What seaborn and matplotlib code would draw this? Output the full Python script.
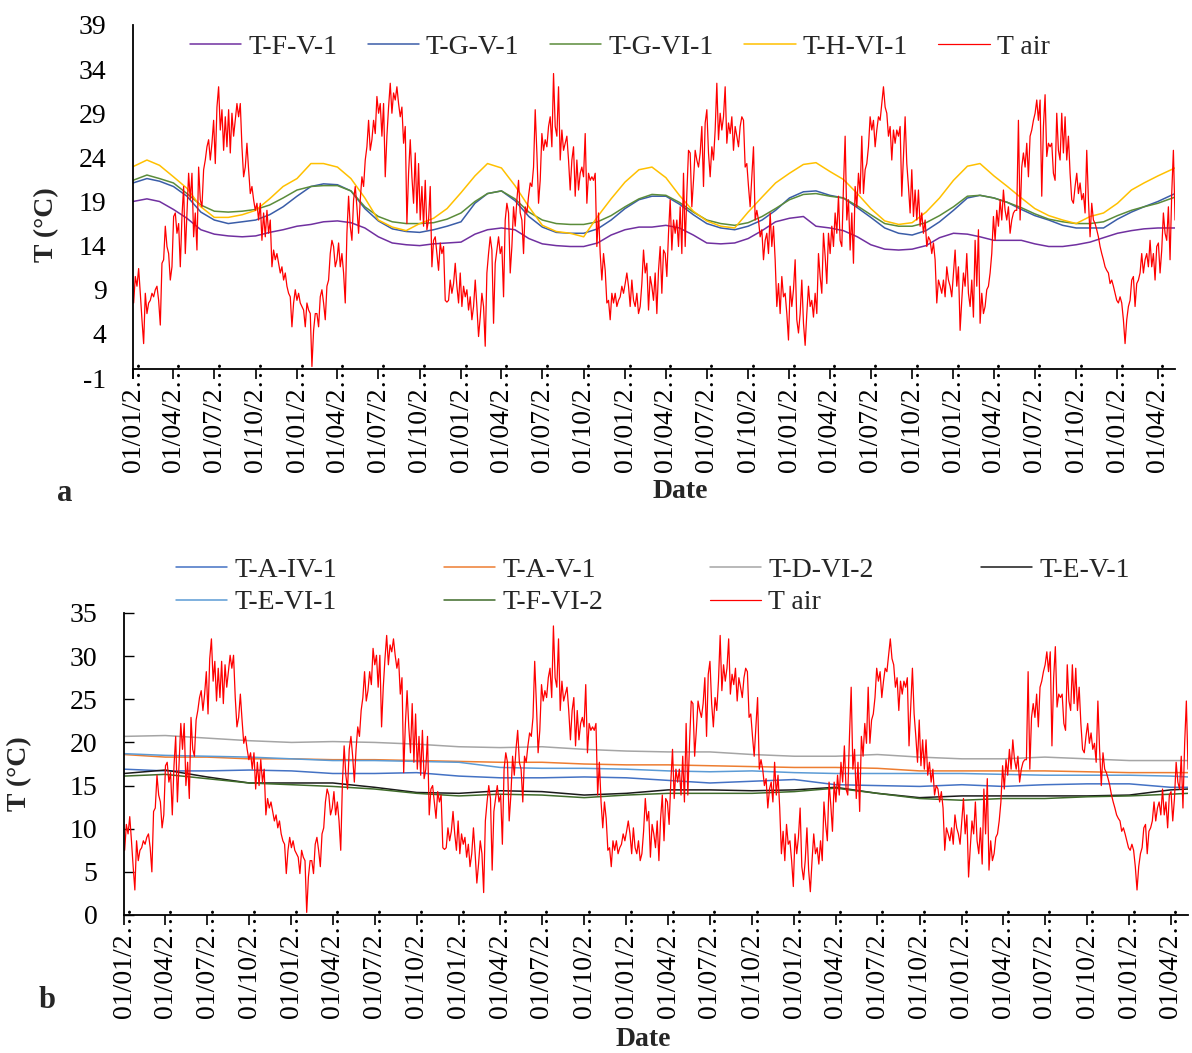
import matplotlib
matplotlib.use("Agg")
import matplotlib.pyplot as plt
import pandas as pd
import seaborn as sns

# ------------------------------------------------------------------ data
# Air temperature (same record in both panels), read at regular steps
AIR_START = "2013-01-02 10:00"
AIR_STEP = "89h"
T_AIR = [
    7.5, 10.5, 9.4, 11.4, 8.6, 5.6, 2.9, 8.6, 6.3, 7.5,
    7.8, 8.6, 8.2, 9.0, 9.4, 7.8, 5.0, 12.0, 12.4, 16.2,
    13.9, 13.1, 10.1, 11.6, 17.3, 17.7, 15.4, 16.5, 11.6, 17.3,
    20.7, 13.1, 17.7, 22.2, 19.2, 22.2, 15.0, 17.7, 13.5, 22.9,
    19.2, 18.4, 22.6, 23.7, 25.2, 26.0, 23.7, 25.6, 28.2, 23.3,
    29.7, 32.0, 27.1, 29.4, 24.8, 28.6, 25.2, 29.4, 24.5, 29.0,
    26.4, 28.2, 30.1, 28.6, 30.1, 25.2, 21.8, 22.9, 25.6, 22.6,
    19.9, 20.7, 19.2, 18.0, 18.8, 16.9, 18.8, 14.6, 17.7, 15.0,
    18.0, 15.4, 16.9, 11.6, 13.5, 12.4, 13.1, 12.0, 10.9, 11.6,
    10.1, 10.9, 9.4, 8.6, 8.2, 4.8, 7.5, 9.0, 7.8, 8.6,
    7.5, 7.1, 6.7, 4.8, 7.5, 6.7, 6.3, 0.3, 4.4, 6.3,
    # 2014
    6.3, 4.8, 8.2, 9.0, 7.5, 5.6, 9.4, 10.1, 13.1, 14.6,
    13.9, 11.6, 12.4, 14.3, 11.6, 13.1, 10.9, 7.5, 15.4, 19.6,
    16.2, 14.6, 19.2, 20.7, 18.4, 15.4, 19.2, 21.8, 20.7, 23.7,
    25.2, 28.2, 24.8, 26.0, 28.2, 26.7, 30.9, 29.0, 30.1, 26.4,
    30.1, 21.8, 26.4, 29.7, 32.4, 29.0, 31.3, 30.5, 32.0, 30.1,
    28.6, 29.7, 25.6, 27.5, 16.5, 22.2, 26.0, 21.8, 18.8, 24.5,
    17.7, 23.3, 16.9, 20.7, 16.2, 21.4, 15.8, 16.9, 20.7, 11.6,
    14.6, 15.0, 13.1, 11.2, 14.3, 13.1, 13.9, 7.8, 7.6, 7.8,
    10.1, 8.6, 9.7, 12.0, 9.4, 7.5, 10.9, 7.1, 9.4, 8.2,
    9.0, 6.7, 8.2, 5.6, 7.1, 10.1, 7.1, 3.7, 5.9, 8.6,
    7.1, 2.6, 10.9, 13.1, 15.0,
    # 2015
    13.5, 5.2, 12.0, 13.5, 15.0, 13.1, 13.9, 8.2, 16.9, 18.8,
    17.7, 10.9, 13.9, 18.4, 16.2, 19.2, 21.4, 17.7, 16.9, 13.1,
    18.4, 17.7, 19.6, 21.1, 20.7, 22.9, 29.4, 24.5, 18.8, 21.4,
    26.7, 24.8, 26.0, 25.2, 27.5, 28.6, 25.2, 33.5, 27.5, 26.4,
    32.0, 23.7, 27.1, 24.8, 25.6, 26.4, 23.7, 20.3, 23.7, 25.2,
    19.6, 23.7, 20.3, 22.2, 22.9, 21.8, 26.7, 18.8, 22.2, 21.4,
    21.8, 21.4, 22.2, 13.9, 17.7, 13.1, 10.1, 13.1, 11.2, 7.5,
    7.8, 5.6, 8.6, 7.5, 8.6, 7.1, 7.8, 8.2, 9.4, 8.6,
    9.7, 10.9, 9.4, 7.1, 10.1, 7.8, 7.1, 8.6, 6.3, 7.1,
    9.7, 13.5, 10.9, 12.0, 6.7, 10.5, 9.4, 7.8, 10.9, 6.3,
    11.2, 13.9, 8.6, 13.5, 13.1,
    # 2016
    10.5, 15.4, 19.2, 13.5, 16.9, 15.4, 16.9, 13.9, 18.4, 13.1,
    22.2, 13.9, 19.9, 24.8, 24.5, 18.4, 21.4, 24.8, 23.7, 22.9,
    24.5, 27.5, 20.7, 27.9, 29.4, 24.5, 21.8, 25.2, 23.7, 27.1,
    32.4, 26.0, 29.0, 27.1, 28.6, 32.0, 25.6, 27.9, 26.7, 28.6,
    24.8, 27.5, 26.4, 25.2, 27.5, 28.6, 28.2, 22.9, 23.3, 20.7,
    18.4, 21.8, 25.2, 16.9, 18.0, 16.9, 15.0, 15.8, 12.4, 14.6,
    15.4, 13.1, 17.7, 13.9, 16.2, 12.4, 7.1, 9.7, 6.3, 10.5,
    8.2, 8.6, 6.3, 3.3, 9.4, 7.1, 9.0, 12.4, 5.6, 4.1,
    6.3, 10.1, 5.2, 2.7, 6.3, 9.4, 7.1, 7.8, 5.9, 8.6,
    6.3, 13.1, 10.5, 8.6, 15.4, 12.8, 9.7, 15.4, 13.1, 16.2,
    13.9, 17.7, 15.4, 19.6, 14.6,
    # 2017
    13.9, 20.7, 26.4, 16.9, 19.2, 13.5, 17.7, 12.0, 20.7, 18.4,
    22.2, 19.9, 26.4, 19.9, 22.6, 23.3, 25.2, 28.6, 27.1, 28.2,
    25.2, 27.1, 28.6, 28.2, 30.1, 32.0, 29.7, 29.0, 26.4, 27.5,
    23.7, 27.1, 25.6, 27.1, 26.4, 27.5, 19.6, 24.1, 28.6, 23.3,
    20.7, 17.7, 22.6, 17.3, 20.3, 16.9, 20.3, 16.2, 17.7, 15.4,
    16.9, 13.9, 15.0, 14.6, 13.1, 14.3, 12.4, 7.5, 10.1, 9.4,
    8.6, 10.1, 8.2, 11.6, 10.1, 9.4, 8.2, 10.9, 13.5, 9.4,
    11.6, 4.4, 7.8, 10.9, 9.4, 13.1, 8.6, 7.1, 10.1, 5.9,
    14.6, 9.4, 15.8, 5.2, 8.6, 6.3, 7.1, 9.0, 9.4, 10.9,
    13.1, 17.3, 14.6, 18.0, 16.2, 19.2, 16.9, 20.3, 18.0, 16.9,
    18.4, 15.4, 16.9, 17.7, 18.0,
    # 2018 - 2019
    18.0, 28.2, 16.9, 22.9, 24.5, 22.9, 25.6, 21.8, 26.4, 27.1,
    28.2, 29.0, 30.5, 28.2, 30.5, 19.6, 27.5, 31.1, 24.1, 25.6,
    25.2, 25.6, 22.2, 21.4, 29.0, 24.8, 23.7, 29.0, 24.5, 28.6,
    23.7, 26.4, 22.2, 19.2, 18.8, 20.7, 22.2, 19.9, 21.1, 19.2,
    19.9, 17.7, 24.8, 19.2, 15.0, 18.8, 16.9, 16.5, 15.8, 15.0,
    13.9, 13.1, 12.4, 11.6, 11.2, 10.9, 9.7, 10.1, 9.4, 8.6,
    7.8, 7.5, 8.2, 7.5, 5.6, 2.9, 5.6, 7.1, 7.8, 10.1,
    10.5, 7.1, 9.7, 10.1, 10.9, 13.1, 10.9, 12.4, 13.1, 11.6,
    14.6, 11.6, 13.1, 10.1, 13.9, 14.3, 10.9, 13.5, 17.7, 15.4,
    14.6, 18.4, 12.4, 19.9, 24.8, 16.9,
]

# Panel a soil sensors, read at the start of each month (last value at END_DATE)
END_DATE = "2019-05-09"
T_F_V_1 = [
    19.0, 19.3, 19.0, 18.1, 17.1, 15.8, 15.3, 15.1, 15.0, 15.1, 15.5, 15.8, 16.2, 16.4,
    16.7, 16.8, 16.6, 16.0, 15.0, 14.3, 14.1, 14.0, 14.2, 14.3, 14.4, 15.3, 15.8,
    16.0, 15.8, 14.8, 14.2, 14.0, 13.9, 13.9, 14.3, 15.2, 15.8, 16.1, 16.1,
    16.3, 16.0, 15.2, 14.3, 14.2, 14.3, 14.8, 15.7, 16.7, 17.1, 17.3, 16.2, 16.0,
    15.7, 15.0, 14.1, 13.6, 13.5, 13.6, 14.0, 14.9, 15.4, 15.3, 15.0, 14.6, 14.6,
    14.6, 14.2, 13.9, 13.9, 14.1, 14.4, 14.9, 15.4, 15.7, 15.9, 16.0, 16.0,
]
T_G_V_1 = [
    21.1, 21.6, 21.3, 20.7, 19.6, 17.8, 16.9, 16.5, 16.7, 16.9, 17.5, 18.4, 19.6, 20.7,
    21.0, 20.9, 20.2, 18.2, 16.8, 15.9, 15.6, 15.5, 15.8, 16.2, 16.7, 18.8, 19.9,
    20.2, 19.1, 17.3, 16.1, 15.5, 15.4, 15.4, 15.9, 16.9, 18.2, 19.2, 19.6,
    19.6, 18.7, 17.5, 16.5, 16.0, 15.8, 16.2, 16.9, 18.0, 19.4, 20.1, 20.2, 19.7,
    19.4, 18.3, 17.2, 16.0, 15.4, 15.2, 15.7, 16.7, 18.0, 19.4, 19.7, 19.4, 18.9,
    18.1, 17.4, 16.9, 16.3, 16.0, 16.0, 16.0, 17.0, 17.8, 18.4, 19.0, 19.9,
]
T_G_VI_1 = [
    21.4, 22.0, 21.6, 21.1, 19.9, 18.6, 17.9, 17.8, 17.9, 18.1, 18.6, 19.4, 20.3, 20.7,
    20.8, 20.8, 20.2, 18.4, 17.3, 16.7, 16.5, 16.5, 16.6, 17.0, 17.7, 19.0, 19.9,
    20.2, 19.3, 17.8, 16.9, 16.5, 16.4, 16.4, 16.7, 17.4, 18.4, 19.3, 19.8,
    19.7, 18.9, 17.8, 16.9, 16.5, 16.3, 16.6, 17.3, 18.2, 19.2, 19.8, 19.9, 19.6,
    19.4, 18.5, 17.5, 16.5, 16.2, 16.2, 16.6, 17.4, 18.4, 19.6, 19.7, 19.4, 18.9,
    18.3, 17.6, 17.0, 16.7, 16.5, 16.5, 16.7, 17.4, 18.0, 18.4, 18.8, 19.5,
]
T_H_VI_1 = [
    22.95, 23.7, 23.1, 21.8, 20.5, 18.4, 17.2, 17.2, 17.5, 18.0, 19.3, 20.7, 21.6, 23.3,
    23.3, 22.9, 21.6, 19.4, 16.9, 16.1, 15.7, 16.5, 17.1, 18.2, 20.0, 21.9, 23.3,
    22.8, 20.8, 18.4, 16.3, 15.6, 15.4, 15.0, 17.3, 19.3, 21.2, 22.6, 22.9,
    21.7, 19.7, 17.9, 16.8, 16.2, 16.0, 17.8, 19.5, 21.1, 22.2, 23.2, 23.4, 22.4,
    21.5, 19.9, 18.2, 16.8, 16.4, 16.6, 17.8, 19.4, 21.4, 23.0, 23.3, 21.9, 20.7,
    19.4, 18.2, 17.4, 16.9, 16.5, 17.3, 17.7, 18.8, 20.3, 21.1, 21.9, 22.8,
]

# Panel b soil sensors, read at the start of each quarter (last value at END_DATE)
T_A_IV_1 = [16.9, 16.7, 16.7, 16.8, 16.7, 16.4, 16.4, 16.5, 16.1, 15.9, 15.9, 16.0, 15.9, 15.6,
            15.3, 15.5, 15.7, 15.1, 15.0, 14.9, 15.1, 14.9, 15.1, 15.2, 15.2, 14.8, 14.8]
T_A_V_1 = [18.6, 18.3, 18.3, 18.1, 18.1, 18.0, 18.0, 17.9, 17.8, 17.7, 17.7, 17.5, 17.4, 17.4,
           17.3, 17.2, 17.1, 17.1, 17.0, 16.7, 16.7, 16.7, 16.7, 16.6, 16.5, 16.5, 16.5]
T_D_VI_2 = [20.7, 20.8, 20.5, 20.2, 20.0, 20.1, 20.0, 19.8, 19.5, 19.4, 19.5, 19.2, 19.0, 18.9,
            18.9, 18.6, 18.4, 18.4, 18.6, 18.3, 18.1, 18.1, 18.3, 18.1, 17.9, 17.9, 17.9]
T_E_V_1 = [16.4, 16.8, 16.0, 15.3, 15.3, 15.3, 14.8, 14.2, 14.1, 14.4, 14.3, 13.9, 14.1, 14.5,
           14.5, 14.4, 14.5, 14.8, 14.1, 13.6, 13.8, 13.8, 13.8, 13.8, 13.9, 14.5, 14.6]
T_E_VI_1 = [18.7, 18.5, 18.4, 18.3, 18.1, 17.9, 17.9, 17.8, 17.7, 17.1, 17.0, 17.0, 16.9, 16.7,
            16.6, 16.7, 16.5, 16.4, 16.4, 16.4, 16.4, 16.3, 16.2, 16.2, 16.2, 16.1, 16.0]
T_F_VI_2 = [16.1, 16.3, 15.8, 15.3, 15.1, 14.9, 14.6, 14.1, 13.8, 14.0, 13.9, 13.6, 13.9, 14.1,
            14.1, 14.1, 14.3, 14.7, 14.1, 13.5, 13.3, 13.5, 13.5, 13.7, 13.8, 14.0, 14.1]

A_YTICKS = list(range(-1, 40, 5))
B_YTICKS = list(range(0, 36, 5))

# ------------------------------------------------------------------ setup
sns.set_theme(style="white")
plt.rcParams["font.family"] = ["Liberation Serif", "DejaVu Serif"]
plt.rcParams["axes.unicode_minus"] = False

W, H = 1192, 1053
fig = plt.figure(figsize=(W / 100, H / 100), dpi=100)


def fx(px):
    return px / W


def fy(py):
    return 1 - py / H


air_dates = pd.date_range(AIR_START, periods=len(T_AIR), freq=AIR_STEP)
month_dates = list(pd.date_range("2013-01-01", periods=len(T_F_V_1) - 1, freq="MS")) + [pd.Timestamp(END_DATE)]
quarter_dates = list(pd.date_range("2013-01-01", periods=len(T_A_IV_1) - 1, freq="QS")) + [pd.Timestamp(END_DATE)]
tick_dates = pd.date_range("2013-01-01", periods=26, freq="QS")
tick_labels = [f"{d.day:02d}/{d.month:02d}/2\u2026" for d in tick_dates]


def style_axes(ax, ylo, yhi, yticks, ytick_len, ytick_dir, xaxis_at=None):
    for s in ("top", "right"):
        ax.spines[s].set_visible(False)
    for s in ("left", "bottom"):
        ax.spines[s].set_color("black")
        ax.spines[s].set_linewidth(1.3)
    if xaxis_at is not None:
        ax.spines["bottom"].set_position(("data", xaxis_at))
    ax.set_xlim(pd.Timestamp("2013-01-01"), pd.Timestamp(END_DATE))
    ax.set_ylim(ylo, yhi)
    ax.set_yticks(yticks)
    ax.set_xticks(tick_dates)
    ax.set_xticklabels(tick_labels)
    ax.tick_params(axis="x", direction="out", length=7, width=1.2, pad=-14,
                   labelsize=20, colors="black", bottom=True, labelrotation=90)
    ax.tick_params(axis="y", direction=ytick_dir, length=ytick_len, width=1.0,
                   pad=19, labelsize=20, colors="black", left=True)
    ax.set_xlabel("")
    ax.set_ylabel("")
    ax.grid(False)
    ax.set_facecolor("white")


# ------------------------------------------------------------------ panel a
ax_a = fig.add_axes([fx(133), fy(378), fx(1175) - fx(133), (378 - 25) / H])
a_series = [
    ("T-F-V-1", month_dates, T_F_V_1, "#7030A0", 1.1),
    ("T-G-V-1", month_dates, T_G_V_1, "#3A5DA8", 1.1),
    ("T-G-VI-1", month_dates, T_G_VI_1, "#5B8C3A", 1.1),
    ("T-H-VI-1", month_dates, T_H_VI_1, "#FFC000", 1.1),
    ("T air", air_dates, T_AIR, "#FF0000", 0.9),
]
for name, xs, ys, col, lw in a_series:
    sns.lineplot(x=xs, y=ys, ax=ax_a, color=col, linewidth=lw, label=name,
                 estimator=None, sort=False)
style_axes(ax_a, -1, 39, A_YTICKS, 0, "out", xaxis_at=0)
h, l = ax_a.get_legend_handles_labels()
ax_a.legend(h, l, ncol=5, loc="center", bbox_to_anchor=(0.467, 0.938),
            frameon=False, fontsize=20, handlelength=1.85, handletextpad=0.25,
            columnspacing=1.1)

# ------------------------------------------------------------------ panel b
ax_b = fig.add_axes([fx(124), fy(915), fx(1188) - fx(124), (915 - 613) / H])
b_series = [
    ("T-A-IV-1", quarter_dates, T_A_IV_1, "#4472C4", 1.1),
    ("T-A-V-1", quarter_dates, T_A_V_1, "#ED7D31", 1.1),
    ("T-D-VI-2", quarter_dates, T_D_VI_2, "#A5A5A5", 1.1),
    ("T-E-V-1", quarter_dates, T_E_V_1, "#1A1A1A", 1.1),
    ("T-E-VI-1", quarter_dates, T_E_VI_1, "#5B9BD5", 1.1),
    ("T-F-VI-2", quarter_dates, T_F_VI_2, "#3F6B2A", 1.1),
    ("T air", air_dates, T_AIR, "#FF0000", 0.9),
]
for name, xs, ys, col, lw in b_series:
    sns.lineplot(x=xs, y=ys, ax=ax_b, color=col, linewidth=lw, label=name,
                 estimator=None, sort=False)
style_axes(ax_b, 0, 35, B_YTICKS, 7, "in")
h, l = ax_b.get_legend_handles_labels()
lut = dict(zip(l, h))
order = ["T-A-IV-1", "T-E-VI-1", "T-A-V-1", "T-F-VI-2", "T-D-VI-2", "T air", "T-E-V-1"]
ax_b.legend([lut[k] for k in order], order, ncol=4, loc="center",
            bbox_to_anchor=(0.497, 1.088), frameon=False, fontsize=20,
            handlelength=1.85, handletextpad=0.25, columnspacing=3.85,
            labelspacing=0.25)

# ------------------------------------------------------------------ labels
fig.text(fx(47), fy(225), "T (°C)", rotation=90, ha="center", va="center",
         fontsize=20, fontweight="bold")
fig.text(fx(680), fy(492), "Date", ha="center", va="center", fontsize=20, fontweight="bold")
fig.text(fx(65), fy(493), "a", ha="center", va="center", fontsize=22, fontweight="bold")
fig.text(fx(20), fy(774), "T (°C)", rotation=90, ha="center", va="center",
         fontsize=20, fontweight="bold")
fig.text(fx(643), fy(1040), "Date", ha="center", va="center", fontsize=20, fontweight="bold")
fig.text(fx(47), fy(1000), "b", ha="center", va="center", fontsize=22, fontweight="bold")

fig.savefig("out.png", dpi=100, facecolor="white")
